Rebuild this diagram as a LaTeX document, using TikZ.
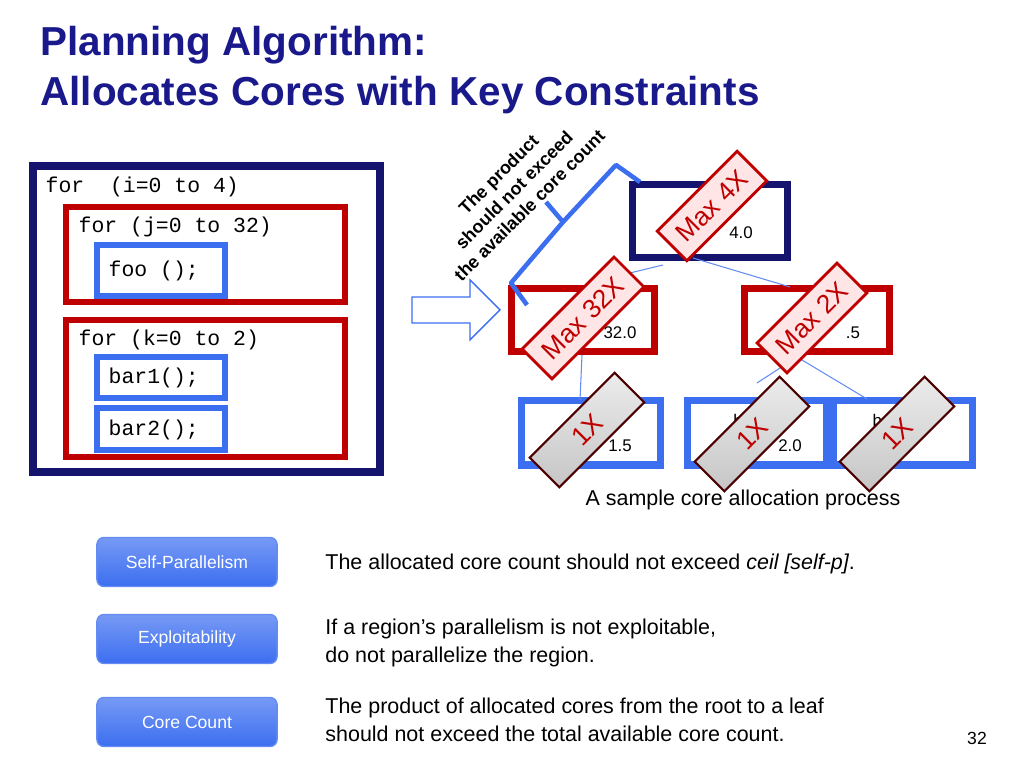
\documentclass[tikz,border=0pt]{standalone}
\usepackage{fontspec}
\setmainfont{Liberation Sans}
\setmonofont{Liberation Mono}
\usetikzlibrary{arrows, positioning, shapes}
\definecolor{navy}{RGB}{20,20,110}
\definecolor{darkred}{RGB}{190,0,0}
\definecolor{boxblue}{RGB}{60,110,240}
\definecolor{titleblue}{RGB}{25,25,140}
\tikzstyle{outerbox} = [% outer loop box
  draw=navy, line width=2.2pt
  ]
\tikzstyle{loopbox} = [% inner loop box
  draw=darkred, line width=1.6pt
  ]
\tikzstyle{callbox} = [% call box
  draw=boxblue, line width=1.6pt
  ]
\tikzstyle{code} = [% code text
  anchor=west, inner sep=0pt, font=\fontsize{6.1}{7}\ttfamily
  ]
\tikzstyle{edge} = [% tree edge
  draw=boxblue!80, line width=0.3pt
  ]
\tikzstyle{maxtag} = [% max label
  draw=darkred, line width=0.8pt, fill=red!10, text=darkred,
  rotate=45, minimum height=0.42cm, font=\fontsize{7.5}{8}\selectfont
  ]
\tikzstyle{onetag} = [% 1X label
  draw=black!70!red, line width=0.6pt, top color=gray!15, bottom color=gray!45,
  text=darkred, rotate=45, minimum width=1.2cm, minimum height=0.42cm,
  font=\fontsize{7.5}{8}\selectfont
  ]
\tikzstyle{button} = [% rounded button
  rounded corners=2pt, draw=boxblue!80, top color=boxblue!70, bottom color=boxblue,
  text=white, minimum width=1.8cm, minimum height=0.49cm,
  font=\fontsize{5}{6}\selectfont
  ]
\tikzstyle{body} = [% body text
  anchor=west, font=\fontsize{6.1}{8}\selectfont, align=left
  ]

\begin{document}
\begin{tikzpicture}[x=0.01cm, y=-0.01cm]
\useasboundingbox (0,0) rectangle (1024,768);

%%% Title
\node[anchor=west, text=titleblue, font=\fontsize{11.5}{14}\bfseries, align=left] (title) at (28,70)
  {Planning Algorithm:\\Allocates Cores with Key Constraints};

%%% Code boxes
\draw[outerbox] (33,166) rectangle (380,472);
\draw[loopbox] (66,207) rectangle (345,302);
\draw[callbox] (97,245) rectangle (225,296);
\draw[loopbox] (66,320) rectangle (345,457);
\draw[callbox] (97,357) rectangle (225,398);
\draw[callbox] (97,408) rectangle (225,450);
\node[code] (li) at (45,187) {for\ \ (i=0 to 4)};
\node[code] (lj) at (78,227) {for (j=0 to 32)};
\node[code] (foo) at (108,271) {foo ();};
\node[code] (lk) at (78,340) {for (k=0 to 2)};
\node[code] (bara) at (108,378) {bar1();};
\node[code] (barb) at (108,430) {bar2();};

%%% Hollow arrow
\draw[draw=boxblue, fill=white, line width=0.4pt]
  (412,297) -- (470,297) -- (470,280) -- (500,310) -- (470,340) -- (470,323) -- (412,323) -- cycle;

%%% Tree
\node[draw=navy, line width=2pt, minimum width=1.55cm, minimum height=0.73cm] (root) at (710,221) {};
\node[draw=darkred, line width=2pt, minimum width=1.43cm, minimum height=0.63cm] (lft) at (583,320) {};
\node[draw=darkred, line width=2pt, minimum width=1.45cm, minimum height=0.63cm] (rgt) at (817,320) {};
\node[draw=boxblue, line width=2pt, minimum width=1.38cm, minimum height=0.64cm] (lfa) at (591,433) {};
\node[draw=boxblue, line width=2pt, minimum width=1.38cm, minimum height=0.64cm] (lfb) at (757,433) {};
\node[draw=boxblue, line width=2pt, minimum width=1.38cm, minimum height=0.64cm] (lfc) at (903,433) {};
\begin{scope}[font=\fontsize{4.8}{5}\selectfont]
  \node (troot) at (741,233) {4.0};
  \node (tlfta) at (573,306) {l};
  \node (tlftb) at (620,333) {32.0};
  \node (trgta) at (807,306) {l};
  \node (trgtb) at (853,333) {.5};
  \node (tlfa) at (620,446) {1.5};
  \node (tlfb) at (738,420) {b};
  \node (tlfbb) at (790,446) {2.0};
  \node (tlfc) at (882,420) {ba};
  \node (tlfcc) at (867,446) {s};
\end{scope}
\draw[edge] (663,265) -- (630,273);
\draw[edge] (693,258) -- (790,287);
\draw[edge] (582,355) -- (580,400);
\draw[edge] (797,357) -- (757,383);
\draw[edge] (797,357) -- (867,399);

%%% Brace and note
\draw[draw=boxblue, line width=1.3pt, line join=round]
  (527,305) -- (511,283) -- (563,222) -- (616,165) -- (640,182);
\draw[draw=boxblue, line width=1.3pt] (563,222) -- (546,202);
\node[rotate=45, font=\fontsize{5.1}{6.2}\bfseries, align=center] (note) at (514,190)
  {The product\\should not exceed\\the available core count};

%%% Tags
\node[maxtag, minimum width=1.08cm] (m4) at (712,206) {Max 4X};
\node[maxtag, minimum width=1.3cm] (m32) at (583,318) {Max 32X};
\node[maxtag, minimum width=1.05cm] (m2) at (812,318) {Max 2X};
\node[onetag] (oa) at (587,430) {1X};
\node[onetag] (ob) at (752,434) {1X};
\node[onetag] (oc) at (897,434) {1X};
\node[font=\fontsize{6.1}{7}\selectfont] (caption) at (743,500) {A sample core allocation process};

%%% Constraints
\node[button] (bsp) at (187,562) {Self-Parallelism};
\node[button] (bex) at (187,639) {Exploitability};
\node[button] (bcc) at (187,722) {Core Count};
\node[body] (tsp) at (313,564) {The allocated core count should not exceed \textit{ceil [self-p]}.};
\node[body] (tex) at (313,643) {If a region’s parallelism is not exploitable,\\do not parallelize the region.};
\node[body] (tcc) at (313,720) {The product of allocated cores from the root to a leaf\\should not exceed the total available core count.};
\node[font=\fontsize{5}{6}\selectfont] (page) at (977,738) {32};

\end{tikzpicture}
\end{document}
